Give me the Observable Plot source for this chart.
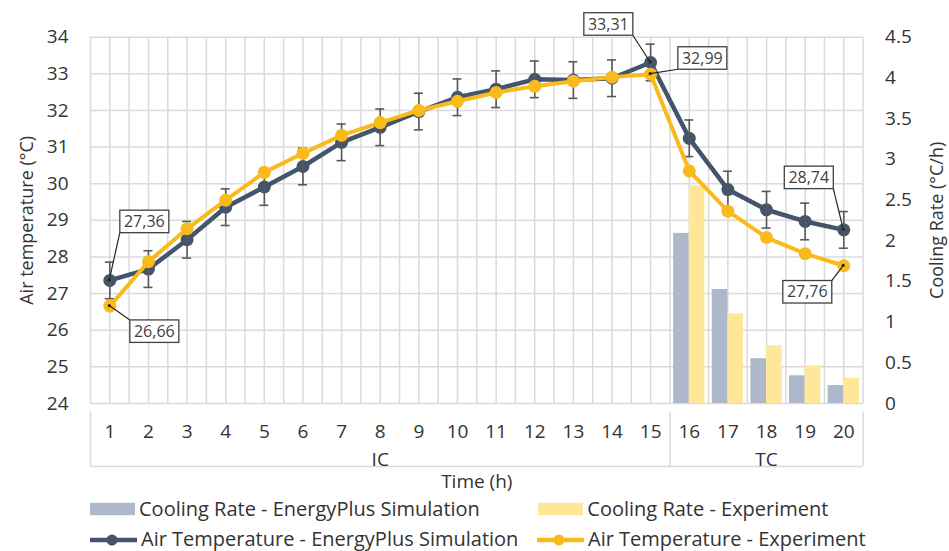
<!DOCTYPE html>
<html><head><meta charset="utf-8">
<script src="https://cdn.jsdelivr.net/npm/d3@7"></script>
<script src="https://cdn.jsdelivr.net/npm/@observablehq/plot@0.6"></script>
<style>
body{margin:0;background:#fff;}
#wrap{position:relative;width:949px;height:551px;font-family:"Open Sans",sans-serif;color:#333;}
#wrap > svg{position:absolute;left:0;top:0;}
.leg{position:absolute;height:20px;display:flex;align-items:center;font-size:20px;line-height:20px;white-space:nowrap;color:#333;}
.leg svg{margin-right:3px;flex:none;}
</style></head><body><div id="wrap"></div>
<script>
// ---- data ----
const hours = d3.range(1, 21);
const simTemp = [27.36, 27.67, 28.47, 29.36, 29.91, 30.47, 31.13, 31.54, 31.97, 32.36, 32.58, 32.85, 32.83, 32.88, 33.31, 31.24, 29.84, 29.29, 28.97, 28.74];
const expTemp = [26.66, 27.87, 28.77, 29.55, 30.31, 30.83, 31.32, 31.67, 32.00, 32.25, 32.49, 32.66, 32.80, 32.91, 32.99, 30.35, 29.25, 28.53, 28.09, 27.76];
const simError = 0.5;
const rateHours = [16, 17, 18, 19, 20];
const simRate = [2.09, 1.40, 0.55, 0.34, 0.22];
const expRate = [2.67, 1.10, 0.71, 0.46, 0.31];
const leftTicks = [24, 25, 26, 27, 28, 29, 30, 31, 32, 33, 34];
const rightTicks = [0, 0.5, 1, 1.5, 2, 2.5, 3, 3.5, 4, 4.5];
const rightLabels = ["0", "0.5", "1", "1.5", "2", "2.5", "3", "3.5", "4", "4.5"];
const groups = [{label: "IC", from: 1, to: 15}, {label: "TC", from: 16, to: 20}];
const callouts = [
  {series: "sim", h: 1, dx: 35, dy: -58.5},
  {series: "exp", h: 1, dx: 45, dy: 25.6},
  {series: "sim", h: 15, dx: -41.8, dy: -38},
  {series: "exp", h: 15, dx: 52.2, dy: -15.7},
  {series: "sim", h: 20, dx: -34.5, dy: -52},
  {series: "exp", h: 20, dx: -36, dy: 26.5}
];
const colors = {simLine: "#44546A", expLine: "#F9BA1C", simBar: "#ADB9CA", expBar: "#FFE699", grid: "#dadada", err: "#595959"};

// ---- derived tables ----
const sim = hours.map((h, i) => ({h, v: simTemp[i]}));
const exp = hours.map((h, i) => ({h, v: expTemp[i]}));
const rates = rateHours.map((h, i) => ({h, sim: simRate[i], exp: expRate[i]}));
const toT = r => 24 + r * (34 - 24) / 4.5; // right axis (0–4.5) onto left axis (24–34)
const halfSteps = d3.range(0.5, 20.51, 0.5);
const separators = [0.5, 15.5, 20.5];
const fmt = v => v.toFixed(2).replace(".", ",");

const chart = Plot.plot({
  width: 949, height: 551,
  marginTop: 36.7, marginRight: 86.4, marginBottom: 148, marginLeft: 90,
  style: {fontFamily: "'Open Sans', sans-serif", fontSize: "19px", color: "#333", background: "transparent", overflow: "visible"},
  x: {type: "linear", domain: [0.5, 20.5]},
  y: {domain: [24, 34]},
  marks: [
    Plot.ruleX(halfSteps, {x: d => d, stroke: colors.grid, strokeWidth: 1.5}),
    Plot.ruleY(leftTicks, {y: d => d, stroke: colors.grid, strokeWidth: 1.5}),
    Plot.rectY(rates, {x1: d => d.h - 0.5, x2: d => d.h + 0.5, y1: () => 24, y2: d => toT(d.sim), insetLeft: 3.7, insetRight: 19.3, fill: colors.simBar}),
    Plot.rectY(rates, {x1: d => d.h - 0.5, x2: d => d.h + 0.5, y1: () => 24, y2: d => toT(d.exp), insetLeft: 19.3, insetRight: 3.7, fill: colors.expBar}),
    // category box below the plot
    Plot.ruleX(separators, {x: d => d, y1: () => 24, y2: () => 24, insetTop: 8.7, insetBottom: -63, stroke: colors.grid, strokeWidth: 1.5}),
    Plot.ruleY([24], {y: d => d, dy: 63, stroke: colors.grid, strokeWidth: 1.5}),
    Plot.axisX(hours, {anchor: "bottom", tickSize: 0, tickPadding: 21, label: null, tickFormat: d => String(d)}),
    Plot.text(groups, {x: d => (d.from + d.to) / 2, text: "label", frameAnchor: "bottom", lineAnchor: "middle", dy: 56}),
    Plot.text(["Time (h)"], {text: d => d, frameAnchor: "bottom", lineAnchor: "middle", dy: 78}),
    Plot.axisY(leftTicks, {anchor: "left", tickSize: 0, tickPadding: 22, label: null}),
    Plot.axisY(rightTicks.map(toT), {anchor: "right", tickSize: 0, tickPadding: 22, label: null,
      tickFormat: d => rightLabels[rightTicks.findIndex(t => Math.abs(toT(t) - d) < 1e-6)]}),
    Plot.text(["Air temperature (°C)"], {text: d => d, frameAnchor: "left", textAnchor: "middle", lineAnchor: "middle", dx: -63, rotate: -90, fontSize: 18}),
    Plot.text(["Cooling Rate (°C/h)"], {text: d => d, frameAnchor: "right", textAnchor: "middle", lineAnchor: "middle", dx: 74, rotate: -90, fontSize: 18}),
    // simulation series
    Plot.line(sim, {x: "h", y: "v", stroke: colors.simLine, strokeWidth: 4.5}),
    Plot.dot(sim, {x: "h", y: "v", r: 6.5, fill: colors.simLine}),
    Plot.ruleX(sim, {x: "h", y1: d => d.v - simError, y2: d => d.v + simError, stroke: colors.err, strokeWidth: 1.6}),
    Plot.ruleY(sim, {y: d => d.v + simError, x1: "h", x2: "h", insetLeft: -4.5, insetRight: -4.5, stroke: colors.err, strokeWidth: 1.6}),
    Plot.ruleY(sim, {y: d => d.v - simError, x1: "h", x2: "h", insetLeft: -4.5, insetRight: -4.5, stroke: colors.err, strokeWidth: 1.6}),
    // experiment series
    Plot.line(exp, {x: "h", y: "v", stroke: colors.expLine, strokeWidth: 4}),
    Plot.dot(exp, {x: "h", y: "v", r: 6.5, fill: colors.expLine}),
    // callouts
    (index, scales) => {
      const g = d3.create("svg:g");
      const w = 49, hh = 22.5;
      for (const c of callouts) {
        const v = (c.series === "sim" ? simTemp : expTemp)[c.h - 1];
        const px = scales.x(c.h), py = scales.y(v);
        const cx = px + c.dx, cy = py + c.dy;
        const kx = cx - Math.sign(c.dx) * w / 2, ky = cy - Math.sign(c.dy) * hh / 2;
        g.append("line").attr("x1", px).attr("y1", py).attr("x2", kx).attr("y2", ky)
          .attr("stroke", "#262626").attr("stroke-width", 1.2);
        g.append("circle").attr("cx", px).attr("cy", py).attr("r", 1.6).attr("fill", "#262626");
        g.append("rect").attr("x", cx - w / 2).attr("y", cy - hh / 2).attr("width", w).attr("height", hh)
          .attr("fill", "white").attr("stroke", "#404040").attr("stroke-width", 1.3);
        g.append("text").attr("x", cx).attr("y", cy).attr("dy", "0.35em").attr("text-anchor", "middle")
          .attr("font-size", 16).attr("fill", "#404040").text(fmt(v));
      }
      return g.node();
    }
  ]
});
const wrap = document.getElementById("wrap");
wrap.appendChild(chart);

// ---- legend ----
const legendItems = [
  {kind: "bar", color: colors.simBar, label: "Cooling Rate - EnergyPlus Simulation", left: 90, mid: 509},
  {kind: "bar", color: colors.expBar, label: "Cooling Rate - Experiment", left: 538.3, mid: 509},
  {kind: "line", color: colors.simLine, label: "Air Temperature - EnergyPlus Simulation", left: 90, mid: 538.5},
  {kind: "line", color: colors.expLine, label: "Air Temperature - Experiment", left: 537, mid: 538.5}
];
for (const it of legendItems) {
  const d = document.createElement("div");
  d.className = "leg";
  d.style.left = it.left + "px";
  d.style.top = (it.mid - 10) + "px";
  const sw = it.kind === "bar"
    ? `<svg width="46" height="20"><rect x="0" y="3.8" width="45" height="12.4" fill="${it.color}"/></svg>`
    : `<svg width="48" height="20"><line x1="0" x2="47" y1="11" y2="11" stroke="${it.color}" stroke-width="4.5"/><circle cx="22" cy="11" r="5.5" fill="${it.color}"/></svg>`;
  d.innerHTML = sw + `<span>${it.label}</span>`;
  wrap.appendChild(d);
}
</script></body></html>
